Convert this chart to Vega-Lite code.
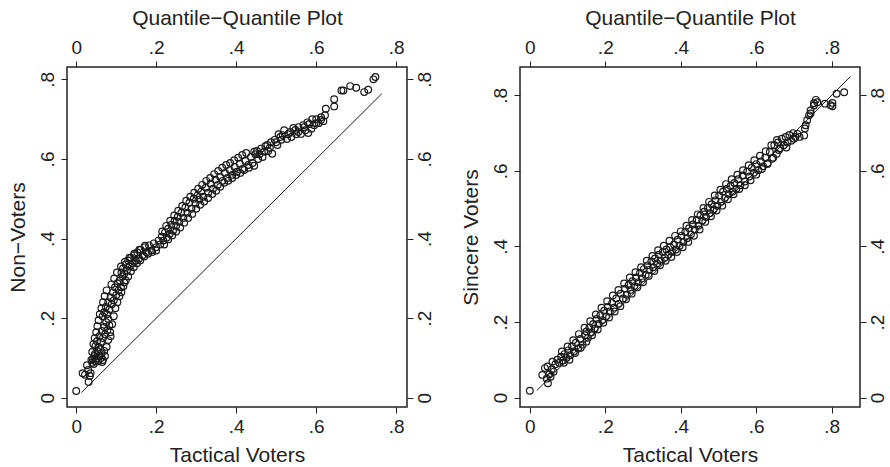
{
  "$schema": "https://vega.github.io/schema/vega-lite/v6.json",
  "background": "white",
  "padding": {"left": 6, "top": 6, "right": 0, "bottom": 0},
  "config": {
    "font": "Liberation Sans",
    "view": {"stroke": "#222", "strokeWidth": 1.5},
    "axis": {"domain": false, "grid": false, "ticks": true, "tickColor": "#222", "tickSize": 6, "tickWidth": 1,
      "labelFont": "Liberation Sans", "labelFontSize": 19, "labelColor": "#222", "labelPadding": 4,
      "labelFlush": false, "labelOverlap": false,
      "titleFont": "Liberation Sans", "titleFontSize": 21, "titleFontWeight": "normal", "titleColor": "#222", "titlePadding": 10},
    "axisBottom": {"titlePadding": 8},
    "axisTop": {"titlePadding": 10},
    "axisRight": {"labelPadding": 2},
    "concat": {"spacing": 24}
  },
  "hconcat": [
    {
      "width": 340, "height": 340,
      "layer": [
        {
          "data": {"values": [
            {"x":0.000,"y":0.017},{"x":0.016,"y":0.062},{"x":0.022,"y":0.058},{"x":0.027,"y":0.082},{"x":0.030,"y":0.070},{"x":0.031,"y":0.040},{"x":0.034,"y":0.055},{"x":0.036,"y":0.062},{"x":0.040,"y":0.088},{"x":0.042,"y":0.097},{"x":0.045,"y":0.105},{"x":0.048,"y":0.092},
            {"x":0.038,"y":0.095},{"x":0.044,"y":0.085},{"x":0.047,"y":0.110},{"x":0.050,"y":0.098},{"x":0.053,"y":0.118},{"x":0.055,"y":0.092},{"x":0.058,"y":0.105},{"x":0.060,"y":0.122},{"x":0.062,"y":0.100},{"x":0.064,"y":0.112},{"x":0.067,"y":0.095},{"x":0.070,"y":0.118},
            {"x":0.048,"y":0.130},{"x":0.052,"y":0.142},{"x":0.056,"y":0.128},{"x":0.058,"y":0.155},{"x":0.062,"y":0.140},{"x":0.064,"y":0.168},{"x":0.067,"y":0.150},{"x":0.070,"y":0.178},{"x":0.072,"y":0.160},{"x":0.075,"y":0.190},{"x":0.078,"y":0.170},{"x":0.080,"y":0.198},{"x":0.083,"y":0.182},{"x":0.086,"y":0.155},
            {"x":0.066,"y":0.205},{"x":0.070,"y":0.215},{"x":0.074,"y":0.228},{"x":0.077,"y":0.210},{"x":0.080,"y":0.240},{"x":0.083,"y":0.222},{"x":0.086,"y":0.252},{"x":0.089,"y":0.235},{"x":0.092,"y":0.265},{"x":0.094,"y":0.245},{"x":0.097,"y":0.278},{"x":0.100,"y":0.258},{"x":0.103,"y":0.288},{"x":0.106,"y":0.270},{"x":0.109,"y":0.295},{"x":0.112,"y":0.278},{"x":0.116,"y":0.305},{"x":0.120,"y":0.290},
            {"x":0.113,"y":0.315},{"x":0.117,"y":0.325},{"x":0.120,"y":0.312},{"x":0.124,"y":0.335},{"x":0.127,"y":0.320},{"x":0.130,"y":0.345},{"x":0.134,"y":0.330},{"x":0.137,"y":0.352},{"x":0.141,"y":0.338},{"x":0.145,"y":0.358},{"x":0.149,"y":0.345},{"x":0.153,"y":0.365},{"x":0.157,"y":0.350},{"x":0.161,"y":0.372},{"x":0.166,"y":0.358},{"x":0.171,"y":0.378},{"x":0.176,"y":0.365},{"x":0.182,"y":0.383},{"x":0.188,"y":0.370},{"x":0.194,"y":0.388},{"x":0.200,"y":0.378},{"x":0.206,"y":0.395},
            {"x":0.210,"y":0.385},{"x":0.214,"y":0.405},{"x":0.218,"y":0.395},{"x":0.222,"y":0.415},{"x":0.226,"y":0.402},{"x":0.230,"y":0.425},{"x":0.234,"y":0.412},{"x":0.238,"y":0.435},{"x":0.242,"y":0.420},{"x":0.246,"y":0.445},{"x":0.250,"y":0.432},{"x":0.254,"y":0.455},{"x":0.258,"y":0.442},{"x":0.263,"y":0.465},{"x":0.268,"y":0.452},{"x":0.273,"y":0.478},{"x":0.278,"y":0.465},{"x":0.283,"y":0.490},{"x":0.288,"y":0.475},{"x":0.294,"y":0.500},
            {"x":0.298,"y":0.488},{"x":0.303,"y":0.508},{"x":0.308,"y":0.498},{"x":0.313,"y":0.518},{"x":0.318,"y":0.505},{"x":0.324,"y":0.528},{"x":0.330,"y":0.515},{"x":0.336,"y":0.538},{"x":0.342,"y":0.525},{"x":0.348,"y":0.548},{"x":0.354,"y":0.535},{"x":0.360,"y":0.555},{"x":0.366,"y":0.545},{"x":0.372,"y":0.565},{"x":0.378,"y":0.552},{"x":0.384,"y":0.572},{"x":0.390,"y":0.560},{"x":0.396,"y":0.580},{"x":0.402,"y":0.568},{"x":0.409,"y":0.588},{"x":0.416,"y":0.575},{"x":0.423,"y":0.595},
            {"x":0.430,"y":0.585},{"x":0.437,"y":0.605},{"x":0.441,"y":0.590},{"x":0.448,"y":0.612},{"x":0.455,"y":0.600},{"x":0.462,"y":0.626},{"x":0.466,"y":0.605},{"x":0.473,"y":0.632},{"x":0.480,"y":0.620},{"x":0.487,"y":0.642},{"x":0.490,"y":0.613},{"x":0.496,"y":0.648},{"x":0.503,"y":0.635},{"x":0.510,"y":0.655},{"x":0.516,"y":0.660},{"x":0.520,"y":0.672},{"x":0.527,"y":0.650},{"x":0.535,"y":0.668},{"x":0.543,"y":0.678},{"x":0.550,"y":0.662},{"x":0.556,"y":0.680},{"x":0.562,"y":0.663},
            {"x":0.568,"y":0.685},{"x":0.573,"y":0.672},{"x":0.578,"y":0.692},{"x":0.583,"y":0.688},{"x":0.588,"y":0.676},{"x":0.590,"y":0.700},{"x":0.595,"y":0.685},{"x":0.600,"y":0.700},{"x":0.606,"y":0.690},{"x":0.612,"y":0.698},
            {"x":0.618,"y":0.695},{"x":0.622,"y":0.710},{"x":0.624,"y":0.726},{"x":0.645,"y":0.732},{"x":0.645,"y":0.750},{"x":0.663,"y":0.772},{"x":0.668,"y":0.772},{"x":0.685,"y":0.783},{"x":0.700,"y":0.779},{"x":0.720,"y":0.768},{"x":0.730,"y":0.774},{"x":0.743,"y":0.800},{"x":0.748,"y":0.806},
            {"x":0.040,"y":0.115},{"x":0.043,"y":0.135},{"x":0.046,"y":0.150},{"x":0.050,"y":0.165},{"x":0.053,"y":0.180},{"x":0.056,"y":0.195},{"x":0.059,"y":0.210},{"x":0.063,"y":0.225},{"x":0.067,"y":0.240},{"x":0.071,"y":0.255},{"x":0.076,"y":0.270},{"x":0.088,"y":0.285},{"x":0.095,"y":0.300},{"x":0.102,"y":0.315},{"x":0.112,"y":0.330},{"x":0.122,"y":0.342},{"x":0.133,"y":0.352},{"x":0.145,"y":0.362},{"x":0.158,"y":0.372},{"x":0.172,"y":0.382},
            {"x":0.065,"y":0.090},{"x":0.072,"y":0.105},{"x":0.076,"y":0.128},{"x":0.080,"y":0.145},{"x":0.085,"y":0.165},{"x":0.090,"y":0.185},{"x":0.094,"y":0.205},{"x":0.098,"y":0.225},{"x":0.103,"y":0.240},{"x":0.108,"y":0.255},{"x":0.113,"y":0.265},{"x":0.118,"y":0.280},{"x":0.124,"y":0.295},{"x":0.130,"y":0.305},{"x":0.137,"y":0.318},{"x":0.144,"y":0.328},{"x":0.152,"y":0.338},{"x":0.160,"y":0.345},{"x":0.170,"y":0.355},{"x":0.180,"y":0.362},{"x":0.190,"y":0.366},{"x":0.200,"y":0.370},
            {"x":0.215,"y":0.418},{"x":0.225,"y":0.432},{"x":0.235,"y":0.445},{"x":0.245,"y":0.458},{"x":0.255,"y":0.470},{"x":0.265,"y":0.482},{"x":0.275,"y":0.495},{"x":0.285,"y":0.505},{"x":0.295,"y":0.515},{"x":0.305,"y":0.525},{"x":0.315,"y":0.535},{"x":0.325,"y":0.545},{"x":0.335,"y":0.552},{"x":0.345,"y":0.562},{"x":0.355,"y":0.570},{"x":0.365,"y":0.578},{"x":0.375,"y":0.585},{"x":0.385,"y":0.590},{"x":0.395,"y":0.597},{"x":0.405,"y":0.603},{"x":0.415,"y":0.610},{"x":0.425,"y":0.615},
            {"x":0.220,"y":0.385},{"x":0.230,"y":0.398},{"x":0.240,"y":0.408},{"x":0.250,"y":0.418},{"x":0.260,"y":0.428},{"x":0.270,"y":0.440},{"x":0.280,"y":0.452},{"x":0.290,"y":0.462},{"x":0.300,"y":0.475},{"x":0.310,"y":0.485},{"x":0.320,"y":0.493},{"x":0.330,"y":0.502},{"x":0.340,"y":0.512},{"x":0.350,"y":0.520},{"x":0.360,"y":0.530},{"x":0.370,"y":0.540},{"x":0.380,"y":0.545},{"x":0.390,"y":0.552},{"x":0.400,"y":0.560},{"x":0.410,"y":0.565},{"x":0.420,"y":0.572},{"x":0.432,"y":0.578},{"x":0.445,"y":0.583},
            {"x":0.445,"y":0.618},{"x":0.452,"y":0.620},{"x":0.458,"y":0.612},{"x":0.470,"y":0.618},{"x":0.478,"y":0.635},{"x":0.484,"y":0.628},{"x":0.500,"y":0.642},{"x":0.506,"y":0.662},{"x":0.513,"y":0.648},{"x":0.530,"y":0.662},{"x":0.538,"y":0.655},{"x":0.548,"y":0.673},{"x":0.555,"y":0.668},{"x":0.570,"y":0.680},{"x":0.580,"y":0.665},{"x":0.600,"y":0.690},{"x":0.612,"y":0.705}
          ]},
          "mark": {"type": "point", "shape": "circle", "filled": false, "stroke": "#1a1a1a", "strokeWidth": 1.2, "size": 45, "opacity": 1},
          "encoding": {
            "x": {"field": "x", "type": "quantitative", "scale": {"domain": [-0.023, 0.827], "nice": false, "zero": false},
              "axis": {"orient": "bottom", "title": "Tactical Voters", "values": [0, 0.2, 0.4, 0.6, 0.8],
                "labelExpr": "datum.value == 0 ? '0' : replace(format(datum.value, '.1f'), '0.', '.')"}},
            "y": {"field": "y", "type": "quantitative", "scale": {"domain": [-0.023, 0.831], "nice": false, "zero": false},
              "axis": {"orient": "left", "title": "Non−Voters", "values": [0, 0.2, 0.4, 0.6, 0.8], "labelAngle": -90,
                "labelExpr": "datum.value == 0 ? '0' : replace(format(datum.value, '.1f'), '0.', '.')"}}
          }
        },
        {
          "data": {"values": [{"x": 0.013, "y": 0.013}, {"x": 0.764, "y": 0.764}]},
          "mark": {"type": "line", "color": "#1a1a1a", "strokeWidth": 1},
          "encoding": {
            "x": {"field": "x", "type": "quantitative", "scale": {"domain": [-0.023, 0.827], "nice": false, "zero": false},
              "axis": {"orient": "top", "title": "Quantile−Quantile Plot", "values": [0, 0.2, 0.4, 0.6, 0.8],
                "labelExpr": "datum.value == 0 ? '0' : replace(format(datum.value, '.1f'), '0.', '.')"}},
            "y": {"field": "y", "type": "quantitative", "scale": {"domain": [-0.023, 0.831], "nice": false, "zero": false},
              "axis": {"orient": "right", "title": null, "values": [0, 0.2, 0.4, 0.6, 0.8], "labelAngle": -90,
                "labelExpr": "datum.value == 0 ? '0' : replace(format(datum.value, '.1f'), '0.', '.')"}}
          }
        }
      ],
      "resolve": {"axis": {"x": "independent", "y": "independent"}}
    },
    {
      "width": 340, "height": 340,
      "layer": [
        {
          "data": {"values": [
            {"x":0.000,"y":0.018},{"x":0.033,"y":0.060},{"x":0.040,"y":0.078},{"x":0.045,"y":0.050},{"x":0.047,"y":0.082},{"x":0.048,"y":0.038},{"x":0.052,"y":0.062},{"x":0.055,"y":0.055},{"x":0.058,"y":0.075},{"x":0.060,"y":0.095},{"x":0.063,"y":0.068},
            {"x":0.068,"y":0.088},{"x":0.073,"y":0.100},{"x":0.078,"y":0.092},{"x":0.083,"y":0.108},{"x":0.088,"y":0.098},{"x":0.092,"y":0.115},{"x":0.097,"y":0.105},{"x":0.102,"y":0.125},{"x":0.107,"y":0.112},{"x":0.112,"y":0.135},{"x":0.117,"y":0.122},{"x":0.122,"y":0.145},{"x":0.128,"y":0.130},{"x":0.134,"y":0.155},{"x":0.140,"y":0.140},{"x":0.146,"y":0.165},
            {"x":0.150,"y":0.175},{"x":0.154,"y":0.158},{"x":0.158,"y":0.185},{"x":0.163,"y":0.172},{"x":0.168,"y":0.195},{"x":0.172,"y":0.182},{"x":0.177,"y":0.208},{"x":0.182,"y":0.195},{"x":0.187,"y":0.218},{"x":0.192,"y":0.205},{"x":0.197,"y":0.230},{"x":0.202,"y":0.215},{"x":0.207,"y":0.240},{"x":0.212,"y":0.228},{"x":0.218,"y":0.250},{"x":0.223,"y":0.238},{"x":0.229,"y":0.262},{"x":0.235,"y":0.248},{"x":0.241,"y":0.275},{"x":0.247,"y":0.262},
            {"x":0.252,"y":0.288},{"x":0.257,"y":0.272},{"x":0.262,"y":0.298},{"x":0.267,"y":0.285},{"x":0.272,"y":0.308},{"x":0.277,"y":0.295},{"x":0.282,"y":0.318},{"x":0.287,"y":0.305},{"x":0.292,"y":0.330},{"x":0.297,"y":0.315},{"x":0.302,"y":0.340},{"x":0.307,"y":0.325},{"x":0.312,"y":0.350},{"x":0.317,"y":0.338},{"x":0.322,"y":0.360},{"x":0.327,"y":0.345},{"x":0.332,"y":0.368},{"x":0.337,"y":0.355},{"x":0.342,"y":0.378},{"x":0.347,"y":0.362},
            {"x":0.352,"y":0.385},{"x":0.357,"y":0.370},{"x":0.362,"y":0.392},{"x":0.367,"y":0.378},{"x":0.372,"y":0.398},{"x":0.377,"y":0.385},{"x":0.382,"y":0.405},{"x":0.387,"y":0.392},{"x":0.392,"y":0.418},{"x":0.397,"y":0.402},{"x":0.402,"y":0.428},{"x":0.407,"y":0.412},{"x":0.412,"y":0.438},{"x":0.417,"y":0.422},{"x":0.422,"y":0.448},{"x":0.427,"y":0.432},{"x":0.432,"y":0.458},{"x":0.437,"y":0.445},{"x":0.442,"y":0.470},{"x":0.447,"y":0.455},
            {"x":0.452,"y":0.482},{"x":0.457,"y":0.468},{"x":0.462,"y":0.492},{"x":0.467,"y":0.478},{"x":0.472,"y":0.502},{"x":0.477,"y":0.488},{"x":0.482,"y":0.512},{"x":0.487,"y":0.498},{"x":0.492,"y":0.522},{"x":0.497,"y":0.508},{"x":0.502,"y":0.535},{"x":0.507,"y":0.518},{"x":0.512,"y":0.545},{"x":0.517,"y":0.528},{"x":0.522,"y":0.552},{"x":0.527,"y":0.538},{"x":0.532,"y":0.560},{"x":0.537,"y":0.545},{"x":0.542,"y":0.568},{"x":0.547,"y":0.552},
            {"x":0.552,"y":0.578},{"x":0.558,"y":0.562},{"x":0.564,"y":0.588},{"x":0.570,"y":0.572},{"x":0.576,"y":0.598},{"x":0.582,"y":0.585},{"x":0.588,"y":0.608},{"x":0.594,"y":0.595},{"x":0.600,"y":0.618},{"x":0.606,"y":0.602},{"x":0.612,"y":0.625},{"x":0.618,"y":0.612},{"x":0.624,"y":0.635},{"x":0.630,"y":0.620},{"x":0.636,"y":0.650},{"x":0.642,"y":0.632},{"x":0.648,"y":0.668},{"x":0.654,"y":0.645},
            {"x":0.658,"y":0.675},{"x":0.663,"y":0.660},{"x":0.668,"y":0.685},{"x":0.673,"y":0.668},{"x":0.678,"y":0.690},{"x":0.683,"y":0.675},{"x":0.688,"y":0.695},{"x":0.693,"y":0.680},{"x":0.698,"y":0.700},{"x":0.704,"y":0.690},{"x":0.709,"y":0.698},{"x":0.727,"y":0.694},
            {"x":0.729,"y":0.712},{"x":0.731,"y":0.721},{"x":0.735,"y":0.734},{"x":0.740,"y":0.747},{"x":0.744,"y":0.752},{"x":0.744,"y":0.760},{"x":0.753,"y":0.773},{"x":0.753,"y":0.779},{"x":0.758,"y":0.788},{"x":0.762,"y":0.782},{"x":0.782,"y":0.778},{"x":0.797,"y":0.774},{"x":0.802,"y":0.771},{"x":0.802,"y":0.780},{"x":0.813,"y":0.804},{"x":0.833,"y":0.808},
            {"x":0.085,"y":0.122},{"x":0.100,"y":0.135},{"x":0.115,"y":0.152},{"x":0.130,"y":0.168},{"x":0.145,"y":0.185},{"x":0.160,"y":0.202},{"x":0.175,"y":0.220},{"x":0.190,"y":0.238},{"x":0.205,"y":0.255},{"x":0.220,"y":0.270},{"x":0.235,"y":0.285},{"x":0.250,"y":0.302},{"x":0.265,"y":0.318},{"x":0.280,"y":0.332},{"x":0.295,"y":0.345},{"x":0.310,"y":0.362},{"x":0.325,"y":0.375},{"x":0.340,"y":0.390},{"x":0.355,"y":0.402},{"x":0.370,"y":0.415},{"x":0.385,"y":0.428},{"x":0.400,"y":0.440},{"x":0.415,"y":0.455},{"x":0.430,"y":0.470},{"x":0.445,"y":0.485},{"x":0.460,"y":0.502},{"x":0.475,"y":0.518},{"x":0.490,"y":0.535},{"x":0.505,"y":0.550},{"x":0.520,"y":0.565},{"x":0.535,"y":0.578},{"x":0.550,"y":0.590},{"x":0.565,"y":0.602},{"x":0.580,"y":0.615},{"x":0.595,"y":0.628},{"x":0.610,"y":0.640},{"x":0.625,"y":0.652},{"x":0.640,"y":0.668},{"x":0.655,"y":0.682},
            {"x":0.090,"y":0.092},{"x":0.105,"y":0.100},{"x":0.120,"y":0.118},{"x":0.135,"y":0.132},{"x":0.150,"y":0.148},{"x":0.165,"y":0.165},{"x":0.180,"y":0.180},{"x":0.195,"y":0.198},{"x":0.210,"y":0.212},{"x":0.225,"y":0.228},{"x":0.240,"y":0.242},{"x":0.255,"y":0.260},{"x":0.270,"y":0.275},{"x":0.285,"y":0.292},{"x":0.300,"y":0.305},{"x":0.315,"y":0.322},{"x":0.330,"y":0.335},{"x":0.345,"y":0.350},{"x":0.360,"y":0.362},{"x":0.375,"y":0.372},{"x":0.390,"y":0.385},{"x":0.405,"y":0.398},{"x":0.420,"y":0.412},{"x":0.435,"y":0.428},{"x":0.450,"y":0.445},{"x":0.465,"y":0.465},{"x":0.480,"y":0.480},{"x":0.495,"y":0.495},{"x":0.510,"y":0.508},{"x":0.525,"y":0.525},{"x":0.540,"y":0.538},{"x":0.555,"y":0.552},{"x":0.570,"y":0.562},{"x":0.585,"y":0.575},{"x":0.600,"y":0.590},{"x":0.615,"y":0.605},{"x":0.630,"y":0.618},{"x":0.645,"y":0.635},{"x":0.660,"y":0.655},{"x":0.680,"y":0.662},{"x":0.700,"y":0.685},{"x":0.715,"y":0.690}
          ]},
          "mark": {"type": "point", "shape": "circle", "filled": false, "stroke": "#1a1a1a", "strokeWidth": 1.2, "size": 45, "opacity": 1},
          "encoding": {
            "x": {"field": "x", "type": "quantitative", "scale": {"domain": [-0.026, 0.875], "nice": false, "zero": false},
              "axis": {"orient": "bottom", "title": "Tactical Voters", "values": [0, 0.2, 0.4, 0.6, 0.8],
                "labelExpr": "datum.value == 0 ? '0' : replace(format(datum.value, '.1f'), '0.', '.')"}},
            "y": {"field": "y", "type": "quantitative", "scale": {"domain": [-0.025, 0.875], "nice": false, "zero": false},
              "axis": {"orient": "left", "title": "Sincere Voters", "values": [0, 0.2, 0.4, 0.6, 0.8], "labelAngle": -90,
                "labelExpr": "datum.value == 0 ? '0' : replace(format(datum.value, '.1f'), '0.', '.')"}}
          }
        },
        {
          "data": {"values": [{"x": 0.019, "y": 0.019}, {"x": 0.85, "y": 0.85}]},
          "mark": {"type": "line", "color": "#1a1a1a", "strokeWidth": 1},
          "encoding": {
            "x": {"field": "x", "type": "quantitative", "scale": {"domain": [-0.026, 0.875], "nice": false, "zero": false},
              "axis": {"orient": "top", "title": "Quantile−Quantile Plot", "values": [0, 0.2, 0.4, 0.6, 0.8],
                "labelExpr": "datum.value == 0 ? '0' : replace(format(datum.value, '.1f'), '0.', '.')"}},
            "y": {"field": "y", "type": "quantitative", "scale": {"domain": [-0.025, 0.875], "nice": false, "zero": false},
              "axis": {"orient": "right", "title": null, "values": [0, 0.2, 0.4, 0.6, 0.8], "labelAngle": -90,
                "labelExpr": "datum.value == 0 ? '0' : replace(format(datum.value, '.1f'), '0.', '.')"}}
          }
        }
      ],
      "resolve": {"axis": {"x": "independent", "y": "independent"}}
    }
  ]
}
